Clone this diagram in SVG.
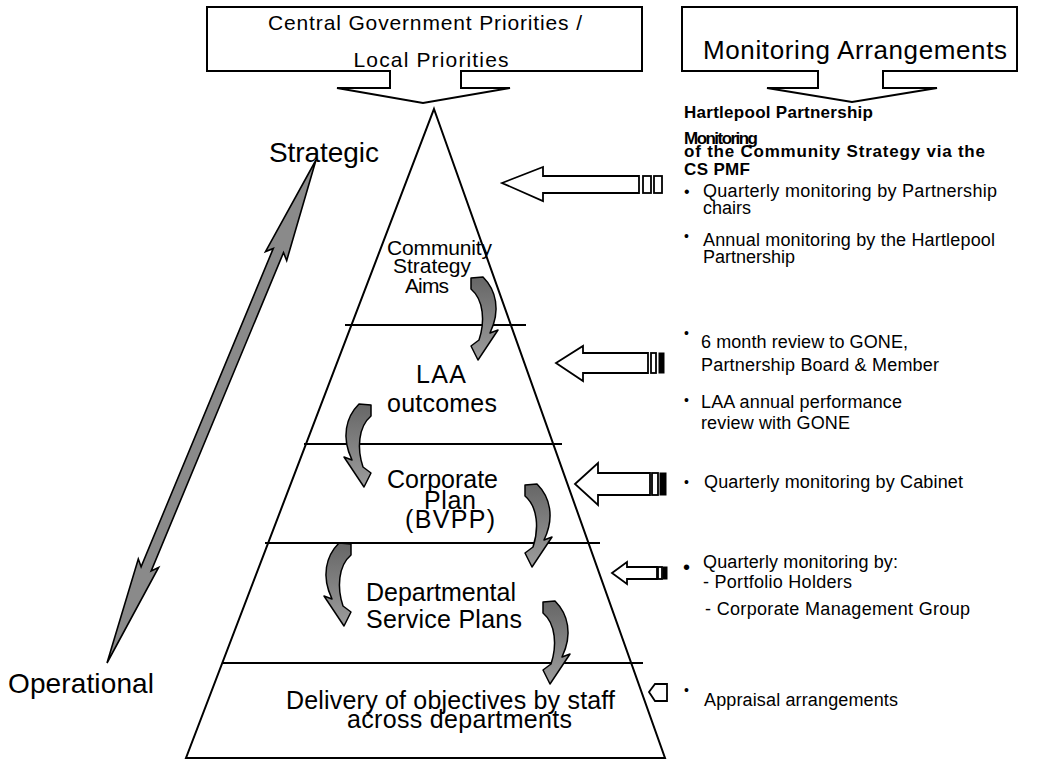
<svg xmlns="http://www.w3.org/2000/svg" width="1048" height="760" viewBox="0 0 1048 760">
<style>
.t{font-family:"Liberation Sans",Arial,sans-serif;fill:#000}
.b{font-weight:bold}
.ln{stroke:#000;stroke-width:2;fill:none}
.box{fill:#fff;stroke:#000;stroke-width:2;stroke-linejoin:miter}
.blk{fill:#fff;stroke:#000;stroke-width:1.8}
.bar{fill:#000;stroke:#000;stroke-width:1}
.ca{fill:url(#gg);stroke:#000;stroke-width:1.5;stroke-linejoin:round}
</style>
<defs>
<linearGradient id="gg" x1="0" y1="0" x2="0" y2="1">
<stop offset="0" stop-color="#666"/>
<stop offset="1" stop-color="#9c9c9c"/>
</linearGradient>
<path id="cr" d="M0,0 L12,-1 C25,12 30,32 19,55 L27,52 L7,82 L0,68 L8,62 C14,44 13,22 0,11 Z"/>
</defs>
<rect width="1048" height="760" fill="#fff"/>

<g id="central-priorities">
<path class="box" d="M207,7 H642 V71 H461 V88 H510 L423,103 L337,88 H390 V71 H207 Z"/>
<text class="t" x="425" y="30" text-anchor="middle" font-size="21" textLength="314">Central Government Priorities /</text>
<text class="t" x="431" y="67" text-anchor="middle" font-size="21" textLength="155">Local Priorities</text>
</g>

<g id="monitoring-arrangements">
<path class="box" d="M682,7 H1017 V71 H883 V88 H937 L852,102 L767,88 H818 V71 H682 Z"/>
<text class="t" x="703" y="59" font-size="26" textLength="304">Monitoring Arrangements</text>
</g>

<g id="pyramid">
<polygon class="ln" points="434,109 665,758 186,758" stroke-linejoin="miter"/>
<line class="ln" x1="345" y1="325" x2="526" y2="325"/>
<line class="ln" x1="304" y1="444" x2="562" y2="444"/>
<line class="ln" x1="265" y1="543" x2="600" y2="543"/>
<line class="ln" x1="222" y1="663" x2="643" y2="663"/>
</g>

<g id="level-community">
<text class="t" x="387" y="255" font-size="21" textLength="105">Community</text>
<text class="t" x="393" y="273" font-size="21" textLength="78">Strategy</text>
<text class="t" x="405" y="293" font-size="21" textLength="44">Aims</text>
</g>
<g id="level-laa">
<text class="t" x="416" y="383" font-size="25" textLength="50">LAA</text>
<text class="t" x="387" y="412" font-size="25" textLength="110">outcomes</text>
</g>
<g id="level-corporate">
<text class="t" x="387" y="488" font-size="25" textLength="111">Corporate</text>
<text class="t" x="424" y="509" font-size="25" textLength="52">Plan</text>
<text class="t" x="405" y="528" font-size="25" textLength="90">(BVPP)</text>
</g>
<g id="level-departmental">
<text class="t" x="366" y="601" font-size="25" textLength="150">Departmental</text>
<text class="t" x="366" y="628" font-size="25" textLength="156">Service Plans</text>
</g>
<g id="level-delivery">
<text class="t" x="286" y="709" font-size="25" textLength="329">Delivery of objectives by staff</text>
<text class="t" x="347" y="728" font-size="25" textLength="225">across departments</text>
</g>

<g id="strategic-operational">
<polygon points="316,160 286.7,260.5 283.5,252.6 151.2,570.9 158.6,567.5 107,663 138.3,559 141.1,566.7 273.3,248.4 265.5,251.6" fill="#8a8a8a" stroke="#000" stroke-width="1.6" stroke-linejoin="miter"/>
<text class="t" x="269" y="162" font-size="28" textLength="110">Strategic</text>
<text class="t" x="8" y="693" font-size="28" textLength="146">Operational</text>
</g>

<g id="connectors">
<use href="#cr" class="ca" transform="translate(471,278)"/>
<use href="#cr" class="ca" transform="translate(371,405) scale(-1,1)"/>
<use href="#cr" class="ca" transform="translate(525,485)"/>
<use href="#cr" class="ca" transform="translate(351,544) scale(-1,1)"/>
<use href="#cr" class="ca" transform="translate(543,602)"/>

<polygon class="blk" points="502,183 543,167 543,176 639,176 639,193 543,193 543,201"/>
<rect class="blk" x="643" y="176" width="8" height="17"/>
<rect class="blk" x="654" y="176" width="8" height="17"/>

<polygon class="blk" points="556,363 583,346 583,353 648,353 648,373 583,373 583,381"/>
<rect class="blk" x="651" y="353" width="5" height="20"/>
<rect class="bar" x="659" y="353" width="5" height="20"/>

<polygon class="blk" points="575,484 598,463 598,473 650,473 650,495 598,495 598,505"/>
<rect class="blk" x="652" y="473" width="6" height="22" stroke-width="2.5"/>
<rect class="bar" x="660" y="473" width="6" height="22"/>

<polygon class="blk" points="612,573 627,562 627,567 657,567 657,579 627,579 627,584"/>
<rect class="blk" x="658" y="567" width="4" height="12"/>
<rect class="bar" x="663" y="567" width="4" height="12"/>

<polygon class="blk" points="649,692 655,684 667,684 667,701 655,701" stroke-width="3.5"/>
</g>

<g id="monitoring-text">
<text class="t b" x="684" y="118" font-size="17" textLength="189">Hartlepool Partnership</text>
<text class="t b" x="684" y="144" font-size="17" textLength="74">Monitoring</text>
<text class="t b" x="684" y="157" font-size="17" textLength="301">of the Community Strategy via the</text>
<text class="t b" x="684" y="175" font-size="17" textLength="66">CS PMF</text>
<text class="t" x="684" y="197" font-size="16">•</text>
<text class="t" x="703" y="197" font-size="18" textLength="294">Quarterly monitoring by Partnership</text>
<text class="t" x="703" y="214" font-size="18">chairs</text>
<text class="t" x="684" y="241" font-size="14">•</text>
<text class="t" x="703" y="246" font-size="18" textLength="292">Annual monitoring by the Hartlepool</text>
<text class="t" x="703" y="263" font-size="18">Partnership</text>
</g>
<g id="laa-text">
<text class="t" x="684" y="338" font-size="14">•</text>
<text class="t" x="701" y="348" font-size="18" textLength="207">6 month review to GONE,</text>
<text class="t" x="701" y="371" font-size="18" textLength="238">Partnership Board &amp; Member</text>
<text class="t" x="684" y="405" font-size="14">•</text>
<text class="t" x="701" y="408" font-size="18" textLength="201">LAA annual performance</text>
<text class="t" x="701" y="429" font-size="18" textLength="149">review with GONE</text>
</g>
<g id="cabinet-text">
<text class="t" x="684" y="487" font-size="14">•</text>
<text class="t" x="704" y="488" font-size="18" textLength="259">Quarterly monitoring by Cabinet</text>
</g>
<g id="departmental-text">
<text class="t" x="683" y="574" font-size="20">•</text>
<text class="t" x="703" y="568" font-size="18" textLength="195">Quarterly monitoring by:</text>
<text class="t" x="703" y="588" font-size="18" textLength="149">- Portfolio Holders</text>
<text class="t" x="705" y="615" font-size="18" textLength="265">- Corporate Management Group</text>
</g>
<g id="appraisal-text">
<text class="t" x="684" y="695" font-size="14">•</text>
<text class="t" x="704" y="706" font-size="18" textLength="194">Appraisal arrangements</text>
</g>
</svg>
